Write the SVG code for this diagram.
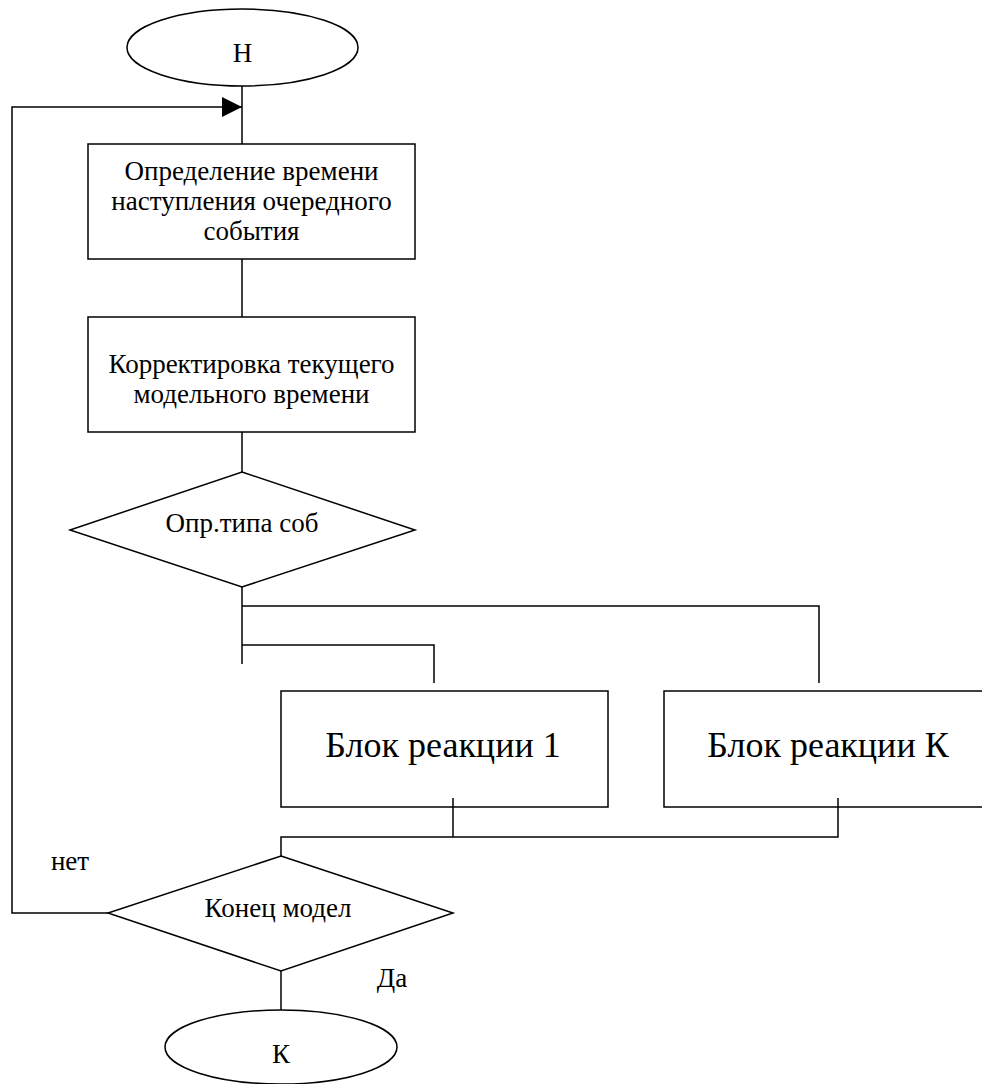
<svg xmlns="http://www.w3.org/2000/svg" width="982" height="1084" viewBox="0 0 982 1084">
<style>
.s{fill:#fff;stroke:#000;stroke-width:1.5}
.c{fill:none;stroke:#000;stroke-width:1.5}
.t{font-family:"Liberation Serif","Times New Roman",serif;font-size:27px;fill:#000;text-anchor:middle}
.b{font-size:36px}
</style>
<defs>
<marker id="arr" markerWidth="20" markerHeight="20" refX="20" refY="10" orient="auto" markerUnits="userSpaceOnUse">
<path d="M0,0 L20,10 L0,20 Z" fill="#000"/>
</marker>
</defs>
<rect width="982" height="1084" fill="#fff"/>
<g id="connectors">
<line class="c" x1="242" y1="86" x2="242" y2="144"/>
<line class="c" x1="242" y1="259" x2="242" y2="317"/>
<line class="c" x1="242" y1="432" x2="242" y2="472"/>
<polyline class="c" points="242,587 242,664"/>
<polyline class="c" points="242,606 819,606 819,683"/>
<polyline class="c" points="242,645 434,645 434,683"/>
<polyline class="c" points="453,798 453,837"/>
<polyline class="c" points="838,798 838,837 281,837 281,856"/>
<line class="c" x1="281" y1="971" x2="281" y2="1010"/>
<polyline class="c" points="108,913 12,913 12,107 242,107" marker-end="url(#arr)"/>
</g>
<g id="start">
<ellipse class="s" cx="242.5" cy="47.5" rx="115.5" ry="38.5"/>
<text class="t" x="242.5" y="62">Н</text>
</g>
<g id="box1">
<rect class="s" x="88" y="144" width="327" height="115"/>
<text class="t" x="251.5" y="180">Определение времени</text>
<text class="t" x="251.5" y="210">наступления очередного</text>
<text class="t" x="251.5" y="240">события</text>
</g>
<g id="box2">
<rect class="s" x="88" y="317" width="327" height="115"/>
<text class="t" x="251.5" y="373">Корректировка текущего</text>
<text class="t" x="251.5" y="403">модельного времени</text>
</g>
<g id="decision1">
<polygon class="s" points="242,472 415,530 242,587 70,530"/>
<text class="t" x="242" y="532">Опр.типа соб</text>
</g>
<g id="react1">
<rect class="s" x="281" y="691" width="327" height="116"/>
<text class="t b" x="443" y="757">Блок реакции 1</text>
</g>
<g id="reactK">
<rect class="s" x="664" y="691" width="328" height="116"/>
<text class="t b" x="828" y="757">Блок реакции К</text>
</g>
<line class="c" x1="453" y1="798" x2="453" y2="807"/>
<line class="c" x1="838" y1="798" x2="838" y2="807"/>
<g id="decision2">
<polygon class="s" points="281,856 453,913 281,971 108,913"/>
<text class="t" x="278" y="917">Конец модел</text>
</g>
<g id="labels">
<text class="t" x="70" y="870">нет</text>
<text class="t" x="392" y="987">Да</text>
</g>
<g id="end">
<ellipse class="s" cx="281" cy="1047" rx="116" ry="37"/>
<text class="t" x="281" y="1063">К</text>
</g>
</svg>
